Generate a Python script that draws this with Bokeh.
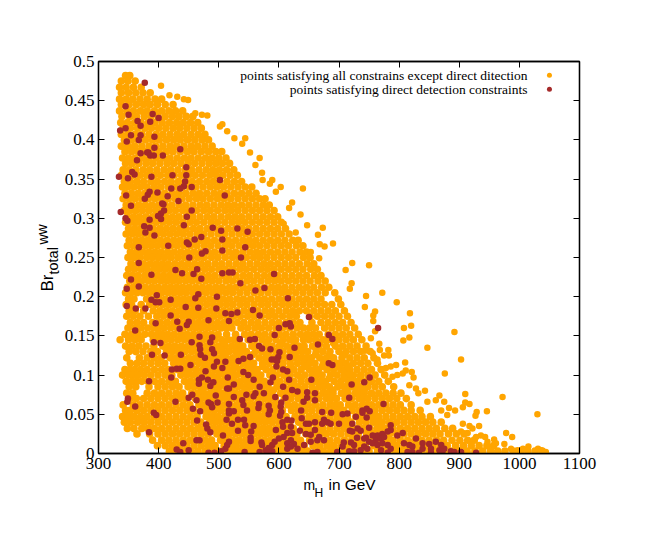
from bokeh.plotting import figure
from bokeh.models import Label, LinearAxis, FixedTicker, Range1d
from bokeh.embed import file_html
from bokeh.resources import INLINE

# orange points: (Br value, [m_H values])
orange_bands = [
(.482,[345,352]),
(.475,[338,349,361]),
(.467,[335,346,358,371]),
(.460,[338,350,362,374,386]),
(.452,[335,346,357,369,381,394,405]),
(.445,[338,351,363,375,386,398,411,424]),
(.437,[335,347,358,370,381,393,405,417,428,440]),
(.430,[339,352,363,376,387,399,411,423,434,446,457]),
(.422,[337,348,360,371,383,394,406,418,430,441,453,465]),
(.415,[341,353,365,377,388,400,412,424,435,447,459,471]),
(.407,[338,349,361,372,384,396,407,419,431,442,454,466,477]),
(.400,[343,355,366,378,390,401,413,425,436,448,460,472,483]),
(.392,[338,349,360,372,384,395,407,419,430,442,454,465,477,489]),
(.385,[344,355,366,378,389,401,413,424,436,448,459,471,483,495,505]),
(.377,[340,350,361,373,384,396,408,419,431,443,454,466,478,489,500,512]),
(.370,[345,356,367,379,390,402,414,425,437,449,460,472,484,495,506,518]),
(.362,[341,351,362,374,385,397,409,420,432,444,455,467,479,490,501,513,525]),
(.355,[338,347,358,369,380,392,403,415,426,438,450,461,473,485,496,507,519,531]),
(.347,[343,353,364,375,387,398,410,421,433,445,456,468,480,491,502,514,526,538]),
(.340,[340,349,359,370,381,393,404,416,427,439,451,462,474,486,497,508,520,532,544,555]),
(.332,[344,355,366,377,388,399,410,422,433,445,457,468,480,492,503,514,526,538,550,562]),
(.325,[341,351,361,372,383,394,405,416,428,439,451,463,474,486,498,509,520,532,544,556,568,577]),
(.317,[346,356,367,378,389,400,411,422,434,445,457,469,480,492,504,515,526,538,550,562,574,584]),
(.310,[343,352,362,373,384,395,406,417,428,440,451,463,475,486,498,510,521,532,544,556,568,580,592]),
(.302,[348,358,368,379,390,401,412,423,434,446,457,469,481,492,504,516,527,538,550,562,574,586,598]),
(.295,[345,354,364,374,385,396,407,418,429,440,452,463,475,487,498,510,522,533,544,556,568,580,592,604]),
(.287,[350,360,370,380,391,402,413,424,435,446,458,469,481,493,504,516,528,539,550,562,574,586,598,611]),
(.280,[346,356,366,376,386,397,408,419,430,441,452,464,475,487,499,510,522,534,545,556,568,580,592,604,617]),
(.272,[351,362,372,382,392,403,414,425,436,447,458,470,481,493,505,516,528,540,551,562,574,586,598,610,623,632]),
(.265,[348,358,368,378,388,398,409,420,431,442,453,464,476,487,499,511,522,534,546,557,568,580,592,604,616,629,640]),
(.257,[353,363,374,384,394,404,415,426,437,448,459,470,482,493,505,517,528,540,552,563,574,586,598,610,622,635,646]),
(.250,[349,359,369,380,390,400,410,421,432,443,454,465,476,488,499,511,523,534,546,558,569,580,592,604,616,628,641,652]),
(.242,[354,365,375,386,396,406,416,427,438,449,460,471,482,494,505,517,529,540,552,564,575,586,598,610,622,634,647,658]),
(.235,[350,360,371,381,392,402,412,422,433,444,455,466,477,488,500,511,523,535,546,558,570,581,592,604,616,628,640,653,664]),
(.227,[347,356,366,377,387,398,408,418,428,439,450,461,472,483,494,506,517,529,541,552,564,576,587,598,610,622,634,646,659,670]),
(.220,[352,362,372,383,393,404,414,424,434,445,456,467,478,489,500,512,523,535,547,558,570,582,593,604,616,628,640,652,665,677]),
(.212,[348,358,368,378,389,399,410,420,430,440,451,462,473,484,495,506,518,529,541,553,564,576,588,599,610,622,634,646,658,671,683]),
(.205,[345,354,364,374,384,395,405,416,426,436,446,457,468,479,490,501,512,523,535,547,559,570,582,594,605,616,628,640,652,664,677,693]),
(.197,[350,359,380,390,401,411,422,432,442,452,463,474,485,496,507,518,530,541,553,565,576,588,600,611,622,634,646,658,670,699]),
(.190,[346,355,371,385,396,407,417,428,438,448,458,469,480,491,502,513,524,536,547,559,571,582,594,606,617,628,640,652,664,676,688,703]),
(.182,[351,361,375,391,402,413,423,434,444,454,464,475,486,497,508,519,530,542,553,565,577,588,600,612,623,634,646,658,670,682,694,709]),
(.175,[347,358,369,383,397,408,419,429,440,450,460,470,481,492,503,514,525,536,548,559,571,583,594,606,618,629,652,664,676,688,700,714]),
(.167,[353,364,375,390,403,414,425,435,446,456,466,476,487,498,509,520,531,542,554,565,577,589,600,612,624,635,655,670,682,694,706,720]),
(.160,[349,360,371,382,392,400,409,420,431,441,452,462,472,482,493,504,513,522,537,548,560,571,583,595,606,618,630,641,651,661,676,688,700,712,726]),
(.152,[344,355,366,377,388,398,406,415,426,437,447,458,468,478,488,499,513,528,543,554,566,577,589,601,612,624,636,647,657,667,682,694,706,718,732]),
(.145,[336,350,361,371,391,401,411,421,432,443,453,464,474,484,494,505,516,525,534,549,560,572,583,595,607,618,628,641,650,661,673,680,688,700,712,724,738]),
(.137,[345,356,367,379,392,407,417,427,438,449,459,470,480,490,500,511,522,531,540,555,566,578,589,601,613,624,633,642,656,667,679,694,706,718,730,745]),
(.130,[351,362,374,387,398,413,423,433,444,455,465,476,486,496,506,517,528,537,546,561,572,584,595,607,619,630,639,648,662,673,685,700,712,724,736,752]),
(.122,[347,368,381,393,404,419,429,439,450,461,471,482,492,502,512,523,534,543,552,567,578,590,601,613,625,636,645,654,668,679,691,705,718,730,742,758]),
(.115,[353,364,375,387,399,410,425,435,445,456,467,477,488,498,508,518,529,540,549,558,573,584,596,607,619,631,642,651,660,674,685,697,704,712,724,736,748,764]),
(.107,[344,352,360,370,381,393,405,416,431,441,451,462,473,483,494,504,514,524,535,546,555,564,579,590,602,613,625,637,651,659,666,680,691,703,710,718,730,742,754,770]),
(.100,[340,350,358,366,376,387,399,411,422,437,447,457,468,479,489,500,510,520,530,541,552,561,570,585,596,608,619,631,643,655,663,672,686,697,709,716,724,736,748,760,776]),
(.092,[346,356,364,372,382,393,405,417,428,443,453,463,474,485,495,506,516,526,536,547,558,567,576,591,602,614,625,637,649,661,670,678,692,703,715,722,730,742,754,766,782]),
(.085,[351,362,384,399,411,423,434,449,459,469,480,491,501,512,522,532,542,553,564,573,582,597,608,620,631,643,655,667,675,684,698,709,721,728,736,748,760,772,791]),
(.077,[347,357,381,393,405,417,429,440,455,465,475,486,497,507,518,528,538,548,559,570,579,588,603,614,626,637,649,661,673,681,690,704,715,727,734,742,754,766,778,790,803]),
(.070,[352,363,375,387,399,411,423,435,446,461,471,481,492,503,513,524,534,544,554,565,576,585,594,609,620,632,643,655,667,679,687,696,710,721,733,740,748,760,772,784,796,812]),
(.062,[341,358,369,381,393,405,417,429,441,452,467,477,487,498,509,519,530,540,550,560,571,582,591,600,615,626,638,649,661,673,685,693,702,716,727,739,746,754,766,778,790,802,820]),
(.055,[345,353,364,375,387,399,411,423,435,447,458,473,483,493,504,515,525,536,546,556,566,577,588,597,606,621,632,644,655,667,679,691,699,708,722,733,745,752,760,772,784,796,808,820,835]),
(.047,[340,349,359,370,381,393,405,417,429,441,453,464,479,489,499,510,521,531,542,552,562,572,583,594,603,612,627,638,650,661,673,685,697,705,714,728,739,751,758,766,778,790,802,814,826,838,852]),
(.040,[343,353,365,376,387,399,411,423,435,447,459,470,485,495,505,516,527,537,548,558,568,578,589,600,609,618,633,644,656,667,679,691,703,711,720,734,745,757,764,772,784,796,808,820,832,844,856,870]),
(.032,[348,359,372,382,393,405,417,429,441,453,465,476,491,501,511,522,533,543,554,564,574,584,595,606,615,624,639,650,662,673,685,697,709,717,726,740,751,763,770,778,790,802,814,826,838,850,862,876,889]),
(.025,[364,385,399,411,423,435,447,459,471,482,497,507,517,528,539,549,560,570,580,590,601,612,621,630,645,656,668,679,691,703,715,723,732,746,757,769,776,784,796,808,820,832,844,856,868,882,895,908]),
(.017,[390,405,417,429,441,453,465,477,488,503,513,523,534,545,555,566,576,586,596,607,618,627,636,651,662,674,685,697,709,721,729,738,752,763,775,782,790,802,814,826,838,850,862,874,888,901,914,925]),
(.010,[398,411,423,435,447,459,471,483,494,509,519,529,540,551,561,572,582,592,602,613,624,633,642,657,668,680,691,703,715,727,735,744,758,769,781,788,796,808,820,832,844,856,868,880,894,907,920,933,946,957]),
(.003,[418,429,441,453,465,477,489,500,515,525,535,546,557,567,578,588,598,608,619,630,639,648,663,674,686,697,709,721,733,741,750,764,775,787,794,802,814,826,838,850,862,874,886,900,913,926,939,952,964,976,990,1002,1014,1026,1038]),
# extra points that sit between the bands where the cloud is solid
(.141,[486,509,533,556,579,603,626,668,691]),
(.126,[486,509,533,556,579,603,626,661,684,708]),
(.111,[480,503,527,550,573,597,620,644,672,695,715]),
(.096,[474,497,520,544,567,591,614,637,660,684,708,736]),
(.081,[473,497,520,544,567,591,614,637,660,690,712,742]),
]

# isolated orange points along the sparse outer edge
edge_mh = [404,418,431,442,449,461,472,481,506,502,514,526,544,539,552,568,561,572,573,589,603,585,595,640,622,617,636,647,673,665,668,676,690,653,667,628,608,
722,750,711,721,718,772,745,743,796,760,757,818,757,820,808,760,817,807,753,892,767,847,782,768,743,756,775,783,764,903,810,795,786,778,821,811,806,797,876,824,789,817,828,843,832,867,910,972,861,847,875,883,910,917,893,906,946,929,927,1030,880,870,906,933,917,922,978,988,936,943,958,947,975,961,928,914,903,1015,1031,1006,986,997,1036,1044]
edge_br = [.469,.457,.455,.452,.451,.434,.432,.431,.420,.417,.411,.402,.402,.395,.384,.377,.368,.358,.349,.349,.340,.344,.334,.338,.320,.313,.305,.291,.288,.279,.267,.264,.268,.257,.249,.282,.293,
.243,.240,.234,.217,.210,.205,.201,.187,.193,.181,.176,.179,.169,.163,.160,.156,.148,.144,.147,.155,.140,.135,.132,.132,.131,.128,.125,.125,.120,.120,.116,.113,.111,.109,.104,.106,.102,.100,.102,.097,.098,.087,.083,.080,.077,.074,.076,.072,.068,.066,.066,.058,.065,.063,.055,.059,.054,.053,.048,.050,.049,.055,.038,.035,.035,.032,.026,.021,.023,.021,.018,.015,.012,.013,.021,.026,.028,.009,.006,.006,.006,.004,.004,.002]

# brown points, read one by one
dd_mh = [377,345,350,390,400,365,386,370,336,345,354,370,393,367,347,393,436,370,381,383,386,392,407,364,446,356,360,334,349,388,423,446,502,444,442,436,455,421,398,346,385,382,377,415,510,433,406,408,354,409,455,337,404,399,447,345,348,385,404,376,442,385,378,490,504,531,548,393,471,460,506,447,450,416,367,544,506,478,472,451,537,
367,428,464,439,388,458,506,517,523,592,471,354,536,367,347,561,576,397,466,388,395,401,420,461,497,615,445,347,362,378,466,496,557,511,521,531,420,568,650,483,517,431,450,447,395,611,618,620,600,435,361,593,683,689,468,489,535,552,560,392,403,455,486,468,469,626,665,567,572,586,489,492,601,389,410,437,470,477,599,618,541,533,552,588,593,597,497,511,453,492,506,683,689,596,422,430,436,478,541,549,607,614,421,515,472,467,482,558,590,586,617,654,384,525,467,486,491,514,517,568,607,622,631,575,561,558,495,647,660,450,456,463,525,546,594,611,647,660,349,348,361,428,483,487,498,489,539,541,517,567,583,604,603,641,457,469,517,517,525,547,566,585,583,604,602,637,672,687,392,396,464,513,532,522,542,544,558,479,481,486,606,614,621,607,620,645,650,660,638,675,681,686,700,672,595,532,554,384,507,635,645,653,660,667,675,614,622,608,600,620,553,553,463,468,441,517,514,571,572,593,589,614,625,642,653,664,631,430,450,436,483,493,504,511,543,568,578,583,589,581,614,620,656,664,697,
765,751,742,721,717,774,739,746,751,706,714,728,739,746,722,731,750,718,722,736,786,786,781,772,764,756,806,797,730,742,745,828,761,770,775,750,756,708,720,725,706,742,747,764,772,781,786,808,817,822,839,839,850,861,853,870,875,867,886,892,903,928,833,814,822,853,872,781,770,736,717,725]
dd_br = [.473,.443,.432,.433,.428,.424,.423,.418,.412,.415,.406,.406,.404,.400,.398,.390,.388,.383,.384,.384,.380,.380,.380,.374,.365,.359,.356,.353,.351,.353,.355,.355,.349,.347,.341,.338,.340,.338,.333,.329,.334,.330,.325,.328,.329,.322,.319,.318,.316,.310,.310,.308,.306,.303,.302,.300,.297,.298,.299,.290,.291,.288,.282,.288,.284,.287,.283,.278,.276,.273,.273,.269,.267,.265,.263,.263,.259,.258,.255,.250,.250,
.243,.234,.235,.230,.228,.229,.230,.231,.231,.229,.223,.222,.217,.213,.210,.208,.211,.202,.203,.196,.193,.193,.196,.198,.200,.198,.187,.188,.185,.185,.186,.185,.183,.179,.178,.180,.176,.176,.174,.170,.169,.168,.168,.164,.166,.165,.166,.162,.160,.159,.157,.151,.151,.146,.149,.148,.146,.145,.146,.142,.141,.142,.142,.138,.133,.135,.139,.137,.134,.133,.133,.128,.129,.126,.125,.126,.126,.122,.123,.123,.121,.118,.123,.120,.120,.118,.117,.117,.113,.111,.109,.115,.113,.111,.107,.108,.108,.105,.104,.100,.107,.105,.097,.097,.097,.094,.094,.094,.097,.091,.094,.094,.092,.088,.089,.086,.091,.083,.083,.085,.085,.081,.079,.077,.077,.073,.074,.078,.077,.071,.075,.068,.072,.075,.072,.071,.071,.068,.070,.066,.060,.066,.065,.063,.065,.059,.068,.062,.063,.063,.061,.065,.060,.066,.057,.054,.055,.051,.054,.055,.058,.055,.050,.053,.048,.055,.053,.052,.052,.049,.042,.043,.043,.038,.043,.036,.035,.037,.032,.027,.040,.043,.042,.034,.034,.038,.038,.040,.045,.043,.040,.038,.038,.038,.030,.029,.028,.027,.023,.029,.025,.024,.030,.021,.017,.026,.026,.021,.019,.017,.020,.016,.017,.017,.013,.015,.011,.014,.011,.015,.011,.013,.012,.011,.015,.017,.006,.005,.004,.002,.001,.001,.003,.006,.002,.002,.004,.007,.003,.001,.006,.009,.001,.002,.002,
.160,.097,.091,.088,.071,.063,.055,.057,.054,.050,.051,.047,.052,.046,.038,.032,.033,.029,.028,.029,.036,.030,.028,.025,.023,.023,.026,.023,.020,.019,.020,.019,.017,.019,.021,.015,.013,.014,.014,.011,.009,.009,.006,.011,.013,.011,.006,.013,.011,.009,.013,.006,.012,.015,.006,.011,.006,.004,.003,.002,.002,.001,.001,.002,.002,.001,.002,.001,.004,.004,.003,.003]

x_ticks = [300,400,500,600,700,800,900,1000,1100]
y_ticks = [0,.05,.1,.15,.2,.25,.3,.35,.4,.45,.5]
y_tick_text = {0:"0",.05:"0.05",.1:"0.1",.15:"0.15",.2:"0.2",.25:"0.25",.3:"0.3",.35:"0.35",.4:"0.4",.45:"0.45",.5:"0.5"}
legend_text = ["points satisfying all constrains except direct ditection","points satisfying direct detection constraints"]
legend_mh = [1050,1050]
legend_br = [.4825,.4645]
ORANGE, BROWN = "#ffa500", "#a52a2a"

mh_all = [x for _, xs in orange_bands for x in xs]
br_all = [y for y, xs in orange_bands for _ in xs]

p = figure(width=640, height=535, output_backend="svg", toolbar_location=None,
           x_range=Range1d(300,1100), y_range=Range1d(0,.5),
           min_border_left=98, min_border_right=61, min_border_top=61, min_border_bottom=76,
           outline_line_color="black", outline_line_width=1.3)
p.grid.visible = False

p.scatter(mh_all, br_all, size=7.6, color=ORANGE, line_width=0)
p.scatter(edge_mh, edge_br, size=6.5, color=ORANGE, line_width=0)
p.scatter(dd_mh, dd_br, size=6.5, color=BROWN, line_width=0)
p.scatter(legend_mh[:1], legend_br[:1], size=5, color=ORANGE, line_width=0)
p.scatter(legend_mh[1:], legend_br[1:], size=5, color=BROWN, line_width=0)

def style(ax, ticks):
    ax.ticker = FixedTicker(ticks=ticks)
    ax.major_tick_in = 6
    ax.major_tick_out = 0
    ax.minor_tick_line_color = None
    ax.axis_line_color = "black"
    ax.axis_line_width = 1.3
    ax.major_tick_line_width = 1
    ax.major_label_text_font = "Liberation Serif"
    ax.major_label_text_font_size = "17px"
    ax.major_label_text_color = "black"
    ax.major_label_standoff = 4

style(p.xaxis[0], x_ticks)
style(p.yaxis[0], y_ticks)
p.yaxis[0].major_label_overrides = y_tick_text
top = LinearAxis(); right = LinearAxis()
p.add_layout(top, "above"); p.add_layout(right, "right")
style(top, x_ticks); style(right, y_ticks)
for a in (top, right):
    a.major_label_text_font_size = "0px"
    a.major_label_text_color = None
    a.major_label_standoff = 0

SANS = "Liberation Sans Narrow"
def lab(px, py, t, size, font=SANS, align="left", angle=0, side="center"):
    # labels outside the plot frame go in a side panel, otherwise Bokeh clips them to the frame
    p.add_layout(Label(x=px, y=py, x_units="canvas", y_units="canvas", text=t, text_font=font,
                       text_font_size=size, text_align=align, text_baseline="middle",
                       text_color="black", angle=angle, level="overlay"), side)

lab(527, 75, legend_text[0], "13.5px", align="right")
lab(527, 89, legend_text[1], "13.5px", align="right")
lab(303, 484, "m", "14px", font="Liberation Sans", side="above")
lab(314, 492, "H", "12px", font="Liberation Sans", side="above")
lab(328, 484, "in GeV", "15.4px", font="Liberation Sans", side="above")
lab(47, 291, "Br", "17px", font="Liberation Sans", angle=1.5708, side="below")
lab(53, 274, "total", "14.5px", font="Liberation Sans", angle=1.5708, side="below")
lab(42, 244, "ww", "14px", font="Liberation Sans", angle=1.5708, side="below")

open("out.html","w").write(file_html(p, INLINE))
